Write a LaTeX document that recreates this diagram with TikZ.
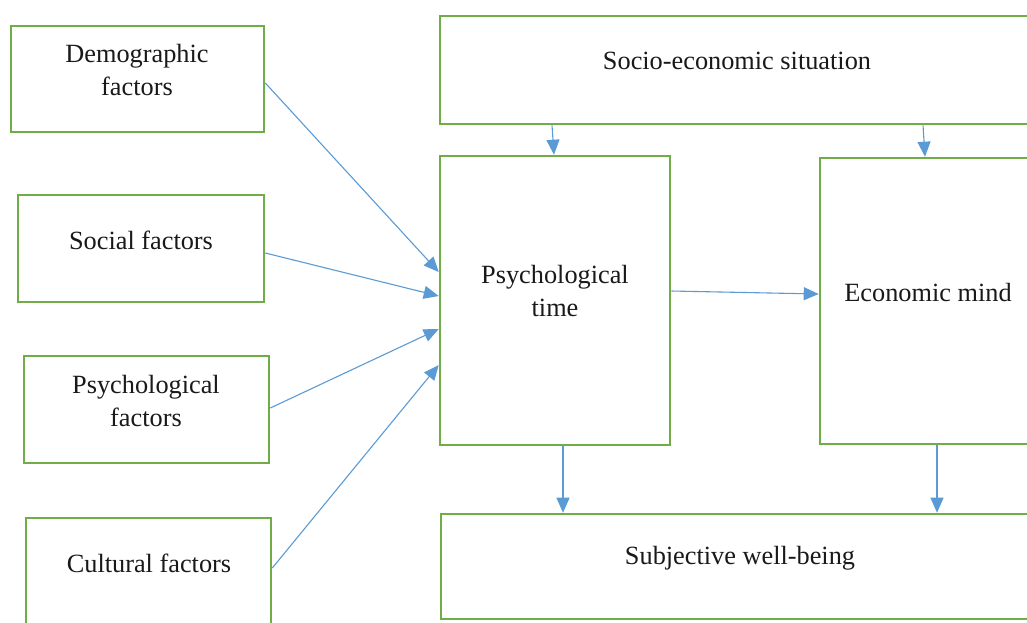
\documentclass[tikz,border=0pt]{standalone}
\usepackage{fontspec}
\setmainfont{Liberation Serif}
\usetikzlibrary{arrows.meta}
\definecolor{boxgreen}{HTML}{70AD47}
\definecolor{arrblue}{HTML}{5B9BD5}
\tikzset{
  box/.style={draw=boxgreen, line width=2.6pt, rectangle, inner sep=0pt},
  txt/.style={align=center, font=\fontsize{26.3}{33}\selectfont, text=black!90, inner sep=0pt},
  arr/.style={draw=arrblue, line width=1.1pt, -{Triangle[length=15pt,width=13pt]}}
}
\begin{document}
\begin{tikzpicture}[x=1pt,y=-1pt]
\useasboundingbox (0,0) rectangle (1027,622);
\clip (0,0) rectangle (1027,622);
\fill[white] (0,0) rectangle (1027,622);
% boxes
\node[box, minimum width=253pt, minimum height=106pt] (demo) at (137.5,79) {};
\node[box, minimum width=246pt, minimum height=107pt] (soc) at (141,248.5) {};
\node[box, minimum width=245pt, minimum height=107pt] (psyf) at (146.5,409.5) {};
\node[box, minimum width=245pt, minimum height=122pt] (cult) at (148.5,579) {};
\node[box, minimum width=600pt, minimum height=108pt] (socio) at (740,70) {};
\node[box, minimum width=230pt, minimum height=289pt] (ptime) at (555,300.5) {};
\node[box, minimum width=220pt, minimum height=286pt] (econ) at (930,301) {};
\node[box, minimum width=599pt, minimum height=105pt] (subj) at (740.5,566.5) {};
% texts
\node[txt] (demoT) at (137,70) {Demographic\\factors};
\node[txt] (socT) at (141,240) {Social factors};
\node[txt] (psyfT) at (146,401) {Psychological\\factors};
\node[txt] (cultT) at (149,563) {Cultural factors};
\node[txt] (socioT) at (737,61) {Socio-economic situation};
\node[txt] (ptimeT) at (555,291) {Psychological\\time};
\node[txt] (econT) at (928,292) {Economic mind};
\node[txt] (subjT) at (740,558) {Subjective well-being};
% arrows
\draw[arr] ([yshift=-4pt]demo.east) -- ([yshift=28.5pt]ptime.west);
\draw[arr] ([yshift=-4.5pt]soc.east) -- ([yshift=4.5pt]ptime.west);
\draw[arr] ([yshift=1.5pt]psyf.east) -- ([yshift=-28.5pt]ptime.west);
\draw[arr] ([yshift=11pt]cult.east) -- ([yshift=-64.5pt]ptime.west);
\draw[arr] ([xshift=-188pt]socio.south) -- ([xshift=-1pt]ptime.north);
\draw[arr] ([xshift=183pt]socio.south) -- ([xshift=-5pt]econ.north);
\draw[arr] ([yshift=9.5pt]ptime.east) -- ([yshift=7pt]econ.west);
\draw[arr] ([xshift=8pt]ptime.south) -- ([xshift=-177.5pt]subj.north);
\draw[arr] ([xshift=7pt]econ.south) -- ([xshift=196.5pt]subj.north);
\end{tikzpicture}
\end{document}
